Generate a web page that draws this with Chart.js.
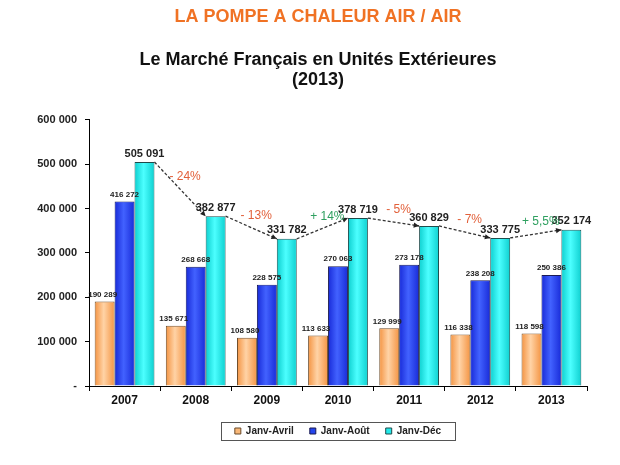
<!DOCTYPE html>
<html>
<head>
<meta charset="utf-8">
<script src="https://cdn.jsdelivr.net/npm/chart.js@4/dist/chart.umd.min.js"></script>
<style>
  html, body { margin: 0; padding: 0; background: #fff; }
  #wrap { width: 620px; height: 465px; }
</style>
</head>
<body>
<div id="wrap"><canvas id="marketChart"></canvas></div>
<script>
const years = ['2007', '2008', '2009', '2010', '2011', '2012', '2013'];
const avrilValues = [190289, 135671, 108580, 113633, 129999, 116338, 118598];
const aoutValues = [416272, 268668, 228575, 270063, 273178, 238208, 250386];
const decValues = [505091, 382877, 331782, 378719, 360829, 333775, 352174];
const evolutionLabels = ['- 24%', '- 13%', '+ 14%', '- 5%', '- 7%', '+ 5,5%'];
const seriesNames = ['Janv-Avril', 'Janv-Août', 'Janv-Déc'];

// edge / centre colours of the bar shading
const barShades = [
    ['#f59a4c', '#ffd3a6'],
    ['#1c30dc', '#4262ff'],
    ['#14d4d4', '#4cffff']
];

function formatThousands(v) {
    if (v === 0) return '-';
    return String(v).replace(/\B(?=(\d{3})+(?!\d))/g, ' ');
}

// horizontal shading inside each bar
const barShadingPlugin = {
    id: 'barShading',
    afterDatasetDraw(chart, args) {
        const ctx = chart.ctx;
        const shade = barShades[args.index];
        ctx.save();
        args.meta.data.forEach(bar => {
            const left = bar.x - bar.width / 2 + 1;
            const right = bar.x + bar.width / 2 - 1;
            const top = bar.y + 1;
            const bottom = bar.base - 0.5;
            const g = ctx.createLinearGradient(left, 0, right, 0);
            g.addColorStop(0, shade[0]);
            g.addColorStop(0.45, shade[1]);
            g.addColorStop(1, shade[0]);
            ctx.fillStyle = g;
            ctx.fillRect(left, top, right - left, bottom - top);
        });
        ctx.restore();
    }
};

// labels above each bar
const valueLabelsPlugin = {
    id: 'valueLabels',
    afterDatasetsDraw(chart) {
        const ctx = chart.ctx;
        ctx.save();
        ctx.fillStyle = '#222';
        ctx.textAlign = 'center';
        ctx.textBaseline = 'bottom';
        chart.data.datasets.forEach((ds, di) => {
            const meta = chart.getDatasetMeta(di);
            ctx.font = di === 2 ? 'bold 11px Arial' : 'bold 8px Arial';
            meta.data.forEach((bar, i) => {
                const dx = di === 0 ? -2 : 0;
                ctx.fillText(formatThousands(ds.data[i]), bar.x + dx, bar.y - 3);
            });
        });
        ctx.restore();
    }
};

// dashed arrows between the Janv-Déc bars + percentage
const evolutionPlugin = {
    id: 'evolution',
    afterDatasetsDraw(chart) {
        const ctx = chart.ctx;
        const meta = chart.getDatasetMeta(2);
        ctx.save();
        for (let i = 0; i < meta.data.length - 1; i++) {
            const a = meta.data[i];
            const b = meta.data[i + 1];
            const x1 = a.x + a.width / 2, y1 = a.y;
            const x2 = b.x - b.width / 2, y2 = b.y;
            ctx.strokeStyle = '#333';
            ctx.lineWidth = 1.3;
            ctx.setLineDash([3, 2]);
            ctx.beginPath();
            ctx.moveTo(x1, y1);
            ctx.lineTo(x2, y2);
            ctx.stroke();
            ctx.setLineDash([]);
            const ang = Math.atan2(y2 - y1, x2 - x1);
            ctx.fillStyle = '#222';
            ctx.beginPath();
            ctx.moveTo(x2, y2);
            ctx.lineTo(x2 - 6 * Math.cos(ang - 0.45), y2 - 6 * Math.sin(ang - 0.45));
            ctx.lineTo(x2 - 6 * Math.cos(ang + 0.45), y2 - 6 * Math.sin(ang + 0.45));
            ctx.closePath();
            ctx.fill();

            const txt = evolutionLabels[i];
            ctx.font = '12px Arial';
            ctx.textAlign = 'center';
            ctx.textBaseline = 'middle';
            ctx.fillStyle = txt.startsWith('+') ? '#2fa060' : '#e2603a';
            ctx.fillText(txt, (x1 + x2) / 2 + 5, (y1 + y2) / 2 - 12);
        }
        ctx.restore();
    }
};

// frame around the legend items
const legendFramePlugin = {
    id: 'legendFrame',
    afterDraw(chart) {
        const boxes = chart.legend && chart.legend.legendHitBoxes;
        if (!boxes || !boxes.length) return;
        const left = Math.min(...boxes.map(b => b.left)) - 14;
        const right = Math.max(...boxes.map(b => b.left + b.width)) + 14;
        const top = Math.min(...boxes.map(b => b.top)) - 4;
        const bottom = Math.max(...boxes.map(b => b.top + b.height)) + 4;
        const ctx = chart.ctx;
        ctx.save();
        ctx.strokeStyle = '#555';
        ctx.lineWidth = 1;
        ctx.strokeRect(Math.round(left) + 0.5, Math.round(top) + 0.5, Math.round(right - left), Math.round(bottom - top));
        ctx.restore();
    }
};

new Chart(document.getElementById('marketChart'), {
    type: 'bar',
    data: {
        labels: years,
        datasets: [
            { label: seriesNames[0], data: avrilValues, backgroundColor: '#f9b878', borderColor: '#6a4a2a' },
            { label: seriesNames[1], data: aoutValues, backgroundColor: '#2445ee', borderColor: '#1a1a50' },
            { label: seriesNames[2], data: decValues, backgroundColor: '#22eaea', borderColor: '#1f4a4a' }
        ]
    },
    options: {
        responsive: true,
        maintainAspectRatio: false,
        animation: false,
        datasets: {
            bar: { borderWidth: 1, barPercentage: 1, categoryPercentage: 0.84 }
        },
        layout: { padding: { left: 16, right: 0, bottom: 19 } },
        plugins: {
            title: {
                display: true,
                text: 'LA POMPE A CHALEUR AIR / AIR',
                color: '#f07224',
                font: { family: 'Arial', size: 18, weight: 'bold' },
                padding: { top: 6, bottom: 22 }
            },
            subtitle: {
                display: true,
                text: ['Le Marché Français en Unités Extérieures', '(2013)'],
                color: '#111',
                font: { family: 'Arial', size: 18, weight: 'bold', lineHeight: 1.12 },
                padding: { bottom: 30 }
            },
            legend: {
                position: 'bottom',
                fullSize: false,
                labels: {
                    boxWidth: 6,
                    boxHeight: 6,
                    padding: 16,
                    color: '#222',
                    font: { family: 'Arial', size: 10, weight: 'bold' }
                }
            },
            tooltip: { enabled: false }
        },
        scales: {
            x: {
                grid: { offset: true, drawOnChartArea: false, tickLength: 5, color: '#000' },
                border: { color: '#000' },
                afterFit(scale) { scale.height = 24; },
                ticks: { color: '#111', padding: 2, font: { family: 'Arial', size: 12, weight: 'bold' } }
            },
            y: {
                min: 0,
                max: 600000,
                grid: { drawOnChartArea: false, tickLength: 4, color: '#000' },
                border: { color: '#000' },
                afterFit(scale) { scale.width = 73; },
                ticks: {
                    stepSize: 100000,
                    color: '#222',
                    padding: 8,
                    font: { family: 'Arial', size: 11, weight: 'bold' },
                    callback: v => formatThousands(v)
                }
            },
            // empty right margin
            spacer: {
                position: 'right',
                display: true,
                grid: { display: false },
                border: { display: false },
                ticks: { display: false },
                afterFit(scale) { scale.width = 33; }
            }
        }
    },
    plugins: [barShadingPlugin, valueLabelsPlugin, evolutionPlugin, legendFramePlugin]
});
</script>
</body>
</html>
